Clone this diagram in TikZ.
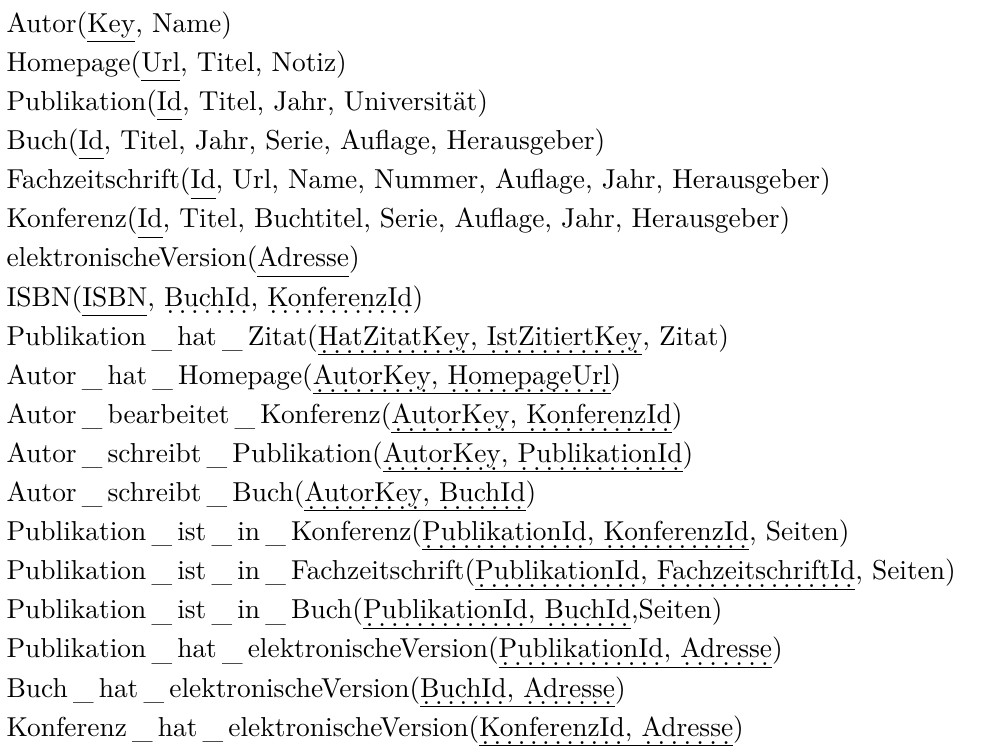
\documentclass[tikz,border=0pt]{standalone}
\usepackage{tikz}
\usetikzlibrary{positioning}

% primary key: solid rule under the whole key group
\newcommand{\pkey}[1]{\setbox0\hbox{#1}\rlap{\rule[-3.6pt]{\wd0}{0.4pt}}\box0}
% foreign key: dotted rule just above the solid one
\newcommand{\fkey}[1]{\setbox2\hbox{#1}\rlap{\raisebox{-2.9pt}[0pt][0pt]{\hbox to\wd2{\xleaders\hbox to 4.4pt{\hss.\hss}\hfil}}}\box2}
% wide underscore in relation names
\newcommand{\us}{\kern1.9pt\raisebox{-0.8pt}{\_}\kern1.9pt}

\begin{document}
\begin{tikzpicture}[y=14.27pt,
    row/.style={anchor=base west, inner sep=0pt, outer sep=0pt}
  ]

  % page frame
  \useasboundingbox (-2.4pt,11.8pt) rectangle (362.2pt,-264.1pt);

  % Entities
  \node[row] (autor)     at (0,0)   {Autor(\pkey{Key}, Name)};
  \node[row] (homepage)  at (0,-1)  {Homepage(\pkey{Url}, Titel, Notiz)};
  \node[row] (publ)      at (0,-2)  {Publikation(\pkey{Id}, Titel, Jahr, Universität)};
  \node[row] (buch)      at (0,-3)  {Buch(\pkey{Id}, Titel, Jahr, Serie, Auflage, Herausgeber)};
  \node[row] (fachz)     at (0,-4)  {Fachzeitschrift(\pkey{Id}, Url, Name, Nummer, Auflage, Jahr, Herausgeber)};
  \node[row] (konf)      at (0,-5)  {Konferenz(\pkey{Id}, Titel, Buchtitel, Serie, Auflage, Jahr, Herausgeber)};
  \node[row] (elversion) at (0,-6)  {elektronischeVersion(\pkey{Adresse})};
  \node[row] (isbn)      at (0,-7)  {ISBN(\pkey{ISBN}, \fkey{BuchId}, \fkey{KonferenzId})};

  % Relationships
  \node[row] (zitat)     at (0,-8)  {Publikation\us hat\us Zitat(\pkey{\fkey{HatZitatKey}, \fkey{IstZitiertKey}}, Zitat)};
  \node[row] (autorhp)   at (0,-9)  {Autor\us hat\us Homepage(\pkey{\fkey{AutorKey}, \fkey{HomepageUrl}})};
  \node[row] (autorkonf) at (0,-10) {Autor\us bearbeitet\us Konferenz(\pkey{\fkey{AutorKey}, \fkey{KonferenzId}})};
  \node[row] (autorpubl) at (0,-11) {Autor\us schreibt\us Publikation(\pkey{\fkey{AutorKey}, \fkey{PublikationId}})};
  \node[row] (autorbuch) at (0,-12) {Autor\us schreibt\us Buch(\pkey{\fkey{AutorKey}, \fkey{BuchId}})};
  \node[row] (publkonf)  at (0,-13) {Publikation\us ist\us in\us Konferenz(\pkey{\fkey{PublikationId}, \fkey{KonferenzId}}, Seiten)};
  \node[row] (publfachz) at (0,-14) {Publikation\us ist\us in\us Fachzeitschrift(\pkey{\fkey{PublikationId}, \fkey{FachzeitschriftId}}, Seiten)};
  \node[row] (publbuch)  at (0,-15) {Publikation\us ist\us in\us Buch(\pkey{\fkey{PublikationId}, \fkey{BuchId}},Seiten)};
  \node[row] (publel)    at (0,-16) {Publikation\us hat\us elektronischeVersion(\pkey{\fkey{PublikationId}, \fkey{Adresse}})};
  \node[row] (buchel)    at (0,-17) {Buch\us hat\us elektronischeVersion(\pkey{\fkey{BuchId}, \fkey{Adresse}})};
  \node[row] (konfel)    at (0,-18) {Konferenz\us hat\us elektronischeVersion(\pkey{\fkey{KonferenzId}, \fkey{Adresse}})};

\end{tikzpicture}
\end{document}
